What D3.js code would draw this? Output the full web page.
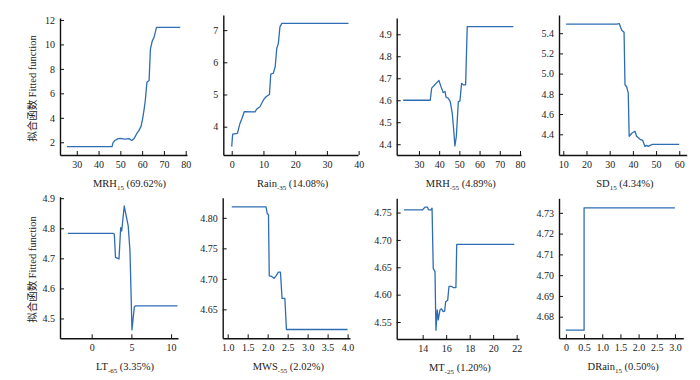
<!DOCTYPE html>
<html>
<head>
<meta charset="utf-8">
<script src="https://cdn.jsdelivr.net/npm/d3@7"></script>
<style>
  html, body { margin: 0; padding: 0; background: #fff; }
  svg { display: block; }
  svg text { font-family: "Liberation Serif", "DejaVu Serif Condensed", "DejaVu Serif", serif !important; fill: #222; }
  svg text tspan.cjk { font-family: "Noto Sans CJK SC", serif !important; }
</style>
</head>
<body>
<svg id="chart" width="700" height="380"></svg>
<script>
// ---------- Data ----------
const titles = [
  ["MRH", "15", " (69.62%)"],
  ["Rain", "-35", " (14.08%)"],
  ["MRH", "-55", " (4.89%)"],
  ["SD", "15", " (4.34%)"],
  ["LT", "-65", " (3.35%)"],
  ["MWS", "-55", " (2.02%)"],
  ["MT", "-25", " (1.20%)"],
  ["DRain", "15", " (0.50%)"]
];
const yLabelCJK = "拟合函数 ";
const yLabelEN = "Fitted function";

const mrh15X = [25.5, 46.2, 46.6, 47.5, 49, 50, 52, 54, 55.3, 56.3, 57.5, 58.5, 59.5, 60.2, 61, 61.5, 62.2, 63.2, 63.8, 64.6, 65.5, 66.6, 77.5];
const mrh15Y = [1.64, 1.64, 1.95, 2.15, 2.3, 2.32, 2.25, 2.3, 2.15, 2.3, 2.7, 2.95, 3.3, 3.9, 4.8, 5.5, 6.9, 7.05, 9.6, 10.25, 10.6, 11.4, 11.4];

const rain35X = [0, 0.3, 1.8, 2.6, 3.25, 4.0, 7.35, 7.9, 8.9, 10.0, 10.8, 11.9, 12.3, 13.1, 13.7, 14.2, 14.7, 15.2, 15.8, 36.8];
const rain35Y = [3.38, 3.77, 3.79, 4.1, 4.26, 4.47, 4.46, 4.55, 4.62, 4.83, 4.93, 5.0, 5.63, 5.66, 5.86, 6.43, 6.59, 7.1, 7.21, 7.21];

const mrh55X = [22.2, 35.6, 36.3, 37.4, 38.8, 39.9, 40.9, 42.0, 42.9, 43.4, 44.5, 45.5, 46.5, 47.2, 47.8, 48.5, 49.5, 50.3, 51.1, 51.9, 53.1, 53.9, 76.7];
const mrh55Y = [4.6, 4.6, 4.655, 4.666, 4.68, 4.69, 4.662, 4.635, 4.64, 4.614, 4.609, 4.594, 4.54, 4.465, 4.392, 4.435, 4.594, 4.597, 4.677, 4.67, 4.67, 4.935, 4.935];

const sd15X = [11.2, 33.0, 34.1, 35.2, 36.2, 36.6, 37.3, 38.0, 38.4, 39.5, 40.9, 41.6, 43.1, 44.2, 45.2, 45.9, 46.6, 47.4, 48.5, 60];
const sd15Y = [5.49, 5.49, 5.495, 5.43, 5.41, 4.89, 4.87, 4.81, 4.38, 4.41, 4.43, 4.38, 4.35, 4.34, 4.28, 4.29, 4.28, 4.29, 4.30, 4.30];

const lt65X = [-3.0, 2.72, 2.85, 3.0, 3.44, 3.65, 3.78, 4.1, 4.6, 4.82, 4.95, 5.07, 5.37, 5.54, 10.8];
const lt65Y = [4.783, 4.783, 4.78, 4.703, 4.698, 4.802, 4.791, 4.874, 4.808, 4.725, 4.593, 4.462, 4.538, 4.542, 4.542];

const mws55X = [1.1, 1.96, 1.99, 2.02, 2.04, 2.1, 2.16, 2.21, 2.27, 2.32, 2.36, 2.43, 2.47, 4.0];
const mws55Y = [4.818, 4.818, 4.807, 4.805, 4.705, 4.704, 4.701, 4.705, 4.711, 4.711, 4.668, 4.668, 4.617, 4.617];

const mt25X = [12.4, 14.0, 14.2, 14.4, 14.5, 14.7, 14.8, 14.9, 15.05, 15.13, 15.24, 15.33, 15.47, 15.6, 15.75, 15.87, 15.96, 16.13, 16.24, 16.47, 16.6, 16.83, 16.9, 21.8];
const mt25Y = [4.755, 4.755, 4.76, 4.76, 4.755, 4.755, 4.758, 4.648, 4.642, 4.535, 4.572, 4.554, 4.572, 4.574, 4.569, 4.570, 4.587, 4.59, 4.615, 4.615, 4.613, 4.613, 4.692, 4.692];

const drain15X = [0, 0.5, 0.5, 3.0];
const drain15Y = [4.6735, 4.6735, 4.7324, 4.7324];

const xTicks1 = [30, 40, 50, 60, 70, 80];
const yTicks1 = [2, 4, 6, 8, 10, 12];
const xTicks2 = [0, 10, 20, 30, 40];
const yTicks2 = [4, 5, 6, 7];
const xTicks3 = [30, 40, 50, 60, 70, 80];
const yTicks3 = [4.4, 4.5, 4.6, 4.7, 4.8, 4.9];
const xTicks4 = [10, 20, 30, 40, 50, 60];
const yTicks4 = [4.4, 4.6, 4.8, 5.0, 5.2, 5.4];
const xTicks5 = [0, 5, 10];
const yTicks5 = [4.5, 4.6, 4.7, 4.8, 4.9];
const xTicks6 = [1.0, 1.5, 2.0, 2.5, 3.0, 3.5, 4.0];
const yTicks6 = [4.65, 4.70, 4.75, 4.80];
const xTicks7 = [14, 16, 18, 20, 22];
const yTicks7 = [4.55, 4.60, 4.65, 4.70, 4.75];
const xTicks8 = [0, 0.5, 1.0, 1.5, 2.0, 2.5, 3.0];
const yTicks8 = [4.68, 4.69, 4.70, 4.71, 4.72, 4.73];

// ---------- Layout / scale configuration ----------
const f1 = d3.format(".1f"), f2 = d3.format(".2f"), f0 = d3.format("d");
const panels = [
  { xs: mrh15X, ys: mrh15Y, xt: xTicks1, yt: yTicks1, xd: [22.3, 80.6], yd: [0.96, 12.16], L: 60, R: 187, T: 18, B: 155, xf: f0, yf: f0, ylab: true },
  { xs: rain35X, ys: rain35Y, xt: xTicks2, yt: yTicks2, xd: [-2.65, 39.8], yd: [3.12, 7.47], L: 223.3, R: 358, T: 15, B: 155, xf: f0, yf: f0 },
  { xs: mrh55X, ys: mrh55Y, xt: xTicks3, yt: yTicks3, xd: [19.0, 80.5], yd: [4.351, 4.974], L: 396.7, R: 521, T: 18, B: 155, xf: f0, yf: f1 },
  { xs: sd15X, ys: sd15Y, xt: xTicks4, yt: yTicks4, xd: [8.15, 63.2], yd: [4.195, 5.58], L: 559, R: 686.7, T: 15, B: 155, xf: f0, yf: f1 },
  { xs: lt65X, ys: lt65Y, xt: xTicks5, yt: yTicks5, xd: [-3.99, 10.87], yd: [4.434, 4.905], L: 60, R: 178, T: 196.7, B: 338.3, xf: f0, yf: f1, ylab: true },
  { xs: mws55X, ys: mws55Y, xt: xTicks6, yt: yTicks6, xd: [0.875, 4.06], yd: [4.6026, 4.833], L: 222.7, R: 350, T: 197.7, B: 338.3, xf: f1, yf: f2 },
  { xs: mt25X, ys: mt25Y, xt: xTicks7, yt: yTicks7, xd: [11.79, 22.2], yd: [4.519, 4.776], L: 396.7, R: 519, T: 198.3, B: 339, xf: f0, yf: f2 },
  { xs: drain15X, ys: drain15Y, xt: xTicks8, yt: yTicks8, xd: [-0.19, 3.23], yd: [4.6696, 4.737], L: 559, R: 683.3, T: 198.3, B: 338.3, xf: d => d === 0 ? "0" : f1(d), yf: f2 }
];

const svg = d3.select("#chart");
const lineColor = "#2f6db3";

panels.forEach((p, i) => {
  const x = d3.scaleLinear().domain(p.xd).range([p.L, p.R]);
  const y = d3.scaleLinear().domain(p.yd).range([p.B, p.T]);
  const g = svg.append("g");

  const xa = g.append("g").attr("transform", `translate(0,${p.B})`)
    .call(d3.axisBottom(x).tickValues(p.xt).tickFormat(p.xf).tickSizeInner(-4).tickSizeOuter(0).tickPadding(6));
  const ya = g.append("g").attr("transform", `translate(${p.L},0)`)
    .call(d3.axisLeft(y).tickValues(p.yt).tickFormat(p.yf).tickSizeInner(-4).tickSizeOuter(0).tickPadding(5));
  [xa, ya].forEach(a => {
    a.attr("font-family", null);
    a.selectAll(".domain").attr("stroke", "#111").attr("stroke-width", 1.4);
    a.selectAll(".tick line").attr("stroke", "#111").attr("stroke-width", 1);
    a.selectAll("text").attr("font-size", 10).attr("fill", "#222");
  });

  const pts = p.xs.map((v, k) => [v, p.ys[k]]);
  g.append("path").datum(pts)
    .attr("fill", "none").attr("stroke", lineColor).attr("stroke-width", 1.3)
    .attr("stroke-linejoin", "round")
    .attr("d", d3.line().x(d => x(d[0])).y(d => y(d[1])));

  // x title
  const t = titles[i];
  const tt = g.append("text").attr("x", (p.L + p.R) / 2 + (i % 4 === 0 ? 6 : 2)).attr("y", p.B + 32)
    .attr("text-anchor", "middle").attr("font-size", 10.5);
  tt.append("tspan").text(t[0]);
  tt.append("tspan").text(t[1]).attr("font-size", 7).attr("dy", 2.5);
  tt.append("tspan").text(t[2]).attr("dy", -2.5);

  if (p.ylab) {
    const yl = svg.append("text")
      .attr("transform", `translate(36,${(p.T + p.B) / 2 + 2}) rotate(-90)`)
      .attr("text-anchor", "middle").attr("font-size", 10.5);
    yl.append("tspan").attr("class", "cjk").text(yLabelCJK);
    yl.append("tspan").text(yLabelEN);
  }
});
</script>
</body>
</html>
